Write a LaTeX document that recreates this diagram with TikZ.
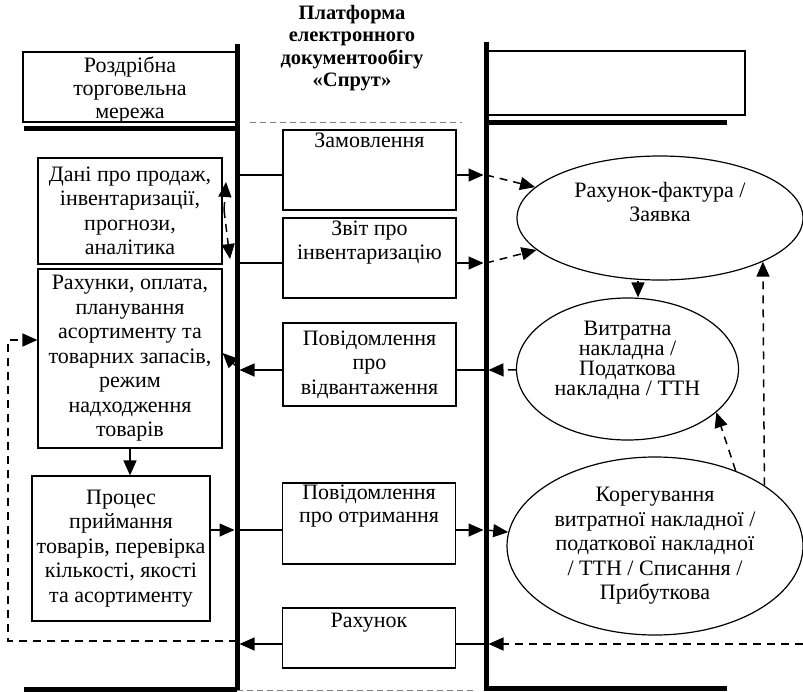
\documentclass[tikz,border=0pt]{standalone}
\usepackage{fontspec}
\setmainfont{Liberation Serif}
\usetikzlibrary{arrows.meta,positioning,shapes.geometric}

\begin{document}
\begin{tikzpicture}[x=1pt,y=-1pt,
  every node/.style={font=\fontsize{22}{24.5}\selectfont, align=center, inner sep=1pt},
  docbox/.style={draw, line width=1.2pt, inner sep=0pt, minimum width=173pt},
  sidebox/.style={draw, line width=1.2pt, inner sep=0pt, minimum width=184pt},
  docell/.style={draw, ellipse, line width=1.2pt, inner sep=0pt},
  flow/.style={line width=1.5pt, -{Triangle[length=15pt,width=13pt]}},
  dflow/.style={flow, dash pattern=on 8pt off 6pt},
  tolane/.style={shorten >=2.5pt},
  plain/.style={line width=1.5pt},
  lane/.style={line width=5pt},
  gap/.style={gray, line width=0.8pt, dash pattern=on 6pt off 4pt}]
\useasboundingbox (0,0) rectangle (803,691);

% lanes
\coordinate (ltop) at (237,44);
\coordinate (lbot) at (237,691);
\coordinate (rtop) at (486,42);
\coordinate (rbot) at (486,691);
\draw[lane] (ltop) -- (lbot);
\draw[lane] (rtop) -- (rbot);
\draw[lane] (24,128) -- (237,128);
\draw[lane] (487,122) -- (727,122);
\draw[lane] (24,689) -- (237,689);
\draw[lane] (487,688) -- (727,688);
\draw[gap] (250,122) -- (462,122);
\draw[gap] (237,690) -- (477,690);

% headers
\draw[line width=1.2pt] (23,52) rectangle (236,122);
\draw[line width=1.2pt] (487,51) rectangle (745,115);
\node[font=\fontsize{22}{23}\selectfont] (torg) at (130,90) {Роздрібна\\торговельна\\мережа};
\node[font=\fontsize{20.5}{22.5}\selectfont\bfseries] (title) at (352,48)
  {Платформа\\електронного\\документообігу\\«Спрут»};

% platform messages
\node[docbox, minimum height=80pt] (zam) at (369.5,170) {};
\node[below=2pt of zam.north] (zamtxt) {Замовлення};
\node[docbox, minimum height=80pt] (zvit) at (369.5,258) {};
\node[below=2pt of zvit.north] (zvittxt) {Звіт про\\інвентаризацію};
\node[docbox, minimum height=83pt] (vidv) at (369.5,364.5)
  {Повідомлення\\про\\відвантаження};
\node[docbox, minimum height=81pt] (otrym) at (369,523.5) {};
\node[below=1pt of otrym.north, font=\fontsize{22}{23}\selectfont] (otrymtxt)
  {Повідомлення\\про отримання};
\node[docbox, minimum height=60pt] (rakh) at (369,638) {};
\node[below=4pt of rakh.north] (rakhtxt) {Рахунок};

% retail side
\node[sidebox, minimum height=106pt] (dani) at (130,211)
  {Дані про продаж,\\інвентаризації,\\прогнози,\\аналітика};
\node[sidebox, minimum height=179pt] (rakhunky) at (130,358.5)
  {Рахунки, оплата,\\планування\\асортименту та\\товарних запасів,\\режим\\надходження\\товарів};
\node[sidebox, minimum width=178pt, minimum height=145pt] (proces) at (121,548.5)
  {Процес\\приймання\\товарів, перевірка\\кількості, якості\\та асортименту};

% supplier side
\node[docell, minimum width=286pt, minimum height=124pt] (inv) at (660,218) {};
\node (invtxt) at ([yshift=16pt]inv.center) {Рахунок-фактура /\\Заявка};
\node[docell, minimum width=222pt, minimum height=142pt] (vytr) at (627.5,369) {};
\node[font=\fontsize{22}{20}\selectfont] (vytrtxt) at ([yshift=9pt]vytr.center)
  {Витратна\\накладна /\\Податкова\\накладна / ТТН};
\node[docell, minimum width=296pt, minimum height=178pt] (corr) at (655,546)
  {Корегування\\витратної накладної /\\податкової накладної\\/ ТТН / Списання /\\Прибуткова};

% order and inventory report
\coordinate (zamW) at ([yshift=-5pt]zam.west);
\coordinate (zamE) at ([yshift=-5pt]zam.east);
\coordinate (zvitW) at ([yshift=-5pt]zvit.west);
\coordinate (zvitE) at ([yshift=-5pt]zvit.east);
\draw[plain] (zamW) -- (zamW -| ltop);
\draw[plain] (zvitW) -- (zvitW -| ltop);
\draw[flow, tolane] (zamE) -- (zamE -| rtop);
\draw[flow, tolane] (zvitE) -- (zvitE -| rtop);
\draw[dflow] (zamE -| rtop) -- (inv);
\draw[dflow] (zvitE -| rtop) -- (inv);
\coordinate (dmid) at (224,210);
\coordinate (dup) at (226,182);
\coordinate (ddown) at (230,259);
\draw[dflow] (dmid) -- (dup);
\draw[dflow] (dmid) -- (ddown);

% dispatch
\coordinate (vidvW) at ([yshift=-5.5pt]vidv.west);
\coordinate (vidvE) at ([yshift=-5.5pt]vidv.east);
\coordinate (rkin) at (rakhunky.east |- 0,353);
\draw[flow, tolane] (vidvW) -- (vidvW -| ltop);
\draw[plain] (vidvE) -- (vidvE -| rtop);
\draw[dflow, tolane] (vytr) -- (vidvE -| rtop);
\draw[dflow] ([yshift=3pt]vidvW -| ltop) -- (rkin);
\draw[flow] (inv.south -| 638,0) -- (vytr.north -| 638,0);

% receipt
\draw[flow] (rakhunky.south) -- (rakhunky.south |- proces.north);
\coordinate (prE) at (proces.east |- 0,530);
\coordinate (otW) at ([yshift=-6.5pt]otrym.west);
\coordinate (otE) at ([yshift=-6.5pt]otrym.east);
\draw[flow, tolane] (prE) -- (prE -| ltop);
\draw[plain] (otW -| ltop) -- (otW);
\draw[flow, tolane] (otE) -- (otE -| rtop);
\draw[dflow] (otE -| rtop) -- (corr);
\draw[dflow] (corr.43) -- (vytr.-26);
\draw[dflow] (corr.29) -- (inv.-23);

% invoice
\coordinate (rkW) at ([yshift=-6pt]rakh.west);
\coordinate (rkE) at ([yshift=-6pt]rakh.east);
\coordinate (redge) at (803,644);
\coordinate (rkback) at (rakhunky.west |- 0,340);
\draw[dflow, tolane] (redge) -- (rkE -| rtop);
\draw[plain] (rkE) -- (rkE -| rtop);
\draw[flow, tolane] (rkW) -- (rkW -| ltop);
\draw[dflow] ([yshift=3pt]rkW -| ltop) -| (8,340) -- (rkback);
\end{tikzpicture}
\end{document}
